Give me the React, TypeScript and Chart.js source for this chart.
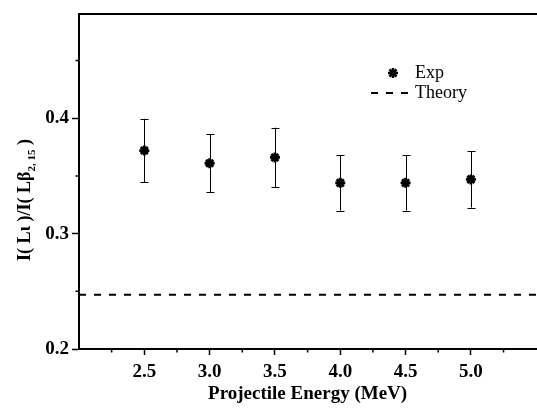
import React, { useEffect, useRef } from "react";
import { Chart, registerables } from "chart.js";

Chart.register(...registerables);

// ---- data ----
const energies = [2.5, 3.0, 3.5, 4.0, 4.5, 5.0];
const ratioExp = [0.372, 0.361, 0.366, 0.344, 0.344, 0.347];
const ratioErr = [0.0275, 0.0253, 0.0258, 0.024, 0.024, 0.0244];
const theoryRatio = 0.247;

const xTickValues = [2.5, 3.0, 3.5, 4.0, 4.5, 5.0];
const yTickValues = [0.2, 0.3, 0.4];
const xMinorTicks = [2.25, 2.75, 3.25, 3.75, 4.25, 4.75, 5.25];
const yMinorTicks = [0.25, 0.35, 0.45];
const xRange = [2.0, 5.5];
const yRange = [0.2, 0.49];

const SERIF = "'Liberation Serif', 'Times New Roman', serif";

function drawStar(ctx: CanvasRenderingContext2D, x: number, y: number, r: number) {
  const d = r * Math.SQRT1_2;
  ctx.beginPath();
  ctx.moveTo(x - r, y);
  ctx.lineTo(x + r, y);
  ctx.moveTo(x, y - r);
  ctx.lineTo(x, y + r);
  ctx.moveTo(x - d, y - d);
  ctx.lineTo(x + d, y + d);
  ctx.moveTo(x - d, y + d);
  ctx.lineTo(x + d, y - d);
  ctx.stroke();
}

const errorBarsPlugin = {
  id: "errorBars",
  beforeDatasetsDraw(chart: any) {
    const { ctx } = chart;
    const xs = chart.scales.x;
    const ys = chart.scales.y;
    ctx.save();
    ctx.strokeStyle = "#000";
    ctx.lineWidth = 1;
    energies.forEach((e, i) => {
      const px = Math.round(xs.getPixelForValue(e)) + 0.5;
      const top = ys.getPixelForValue(ratioExp[i] + ratioErr[i]);
      const bot = ys.getPixelForValue(ratioExp[i] - ratioErr[i]);
      ctx.beginPath();
      ctx.moveTo(px, top);
      ctx.lineTo(px, bot);
      ctx.moveTo(px - 4, Math.round(top) + 0.5);
      ctx.lineTo(px + 4, Math.round(top) + 0.5);
      ctx.moveTo(px - 4, Math.round(bot) + 0.5);
      ctx.lineTo(px + 4, Math.round(bot) + 0.5);
      ctx.stroke();
    });
    ctx.restore();
  },
};

const decorPlugin = {
  id: "decor",
  afterDraw(chart: any) {
    const { ctx, chartArea } = chart;
    const xs = chart.scales.x;
    const ys = chart.scales.y;
    ctx.save();
    // minor ticks
    ctx.strokeStyle = "#000";
    ctx.lineWidth = 1.5;
    ctx.beginPath();
    xMinorTicks.forEach((v) => {
      const px = xs.getPixelForValue(v);
      ctx.moveTo(px, chartArea.bottom);
      ctx.lineTo(px, chartArea.bottom + 3.5);
    });
    yMinorTicks.forEach((v) => {
      const py = ys.getPixelForValue(v);
      ctx.moveTo(chartArea.left, py);
      ctx.lineTo(chartArea.left - 3.5, py);
    });
    ctx.stroke();

    // y-axis title with subscript
    ctx.save();
    ctx.translate(30, 261);
    ctx.rotate(-Math.PI / 2);
    ctx.fillStyle = "#000";
    ctx.textBaseline = "alphabetic";
    ctx.textAlign = "left";
    const mainFont = `bold 18px ${SERIF}`;
    const subFont = `bold 11px ${SERIF}`;
    let cx = 0;
    ctx.font = mainFont;
    const p1 = "I( Lι )/I( Lβ";
    ctx.fillText(p1, cx, 0);
    cx += ctx.measureText(p1).width;
    ctx.font = subFont;
    const p2 = "2, 15";
    ctx.fillText(p2, cx, 5);
    cx += ctx.measureText(p2).width;
    ctx.font = mainFont;
    ctx.fillText(" )", cx, 0);
    ctx.restore();

    // legend
    ctx.strokeStyle = "#000";
    ctx.lineWidth = 2.5;
    drawStar(ctx, 393, 73, 5);
    ctx.lineWidth = 2;
    ctx.setLineDash([7, 8]);
    ctx.beginPath();
    ctx.moveTo(371, 93);
    ctx.lineTo(414, 93);
    ctx.stroke();
    ctx.setLineDash([]);
    ctx.fillStyle = "#000";
    ctx.font = `18px ${SERIF}`;
    ctx.textBaseline = "middle";
    ctx.textAlign = "left";
    ctx.fillText("Exp", 415, 73);
    ctx.fillText("Theory", 415, 93);
    ctx.restore();
  },
};

export default function App() {
  const canvasRef = useRef<HTMLCanvasElement | null>(null);

  useEffect(() => {
    if (!canvasRef.current) return;
    const tickFont = { family: SERIF, weight: "bold" as const, size: 19 };
    const titleFont = { family: SERIF, weight: "bold" as const, size: 19 };
    const chart = new Chart(canvasRef.current, {
      type: "scatter",
      data: {
        datasets: [
          {
            type: "scatter",
            label: "Exp",
            data: energies.map((e, i) => ({ x: e, y: ratioExp[i] })),
            pointStyle: "star",
            pointRadius: 5,
            pointBorderWidth: 2.8,
            borderColor: "#000",
            backgroundColor: "#000",
            xAxisID: "x",
            yAxisID: "y",
          } as any,
          {
            type: "line",
            label: "Theory",
            data: [
              { x: xRange[0], y: theoryRatio },
              { x: xRange[1], y: theoryRatio },
            ],
            borderColor: "#000",
            borderWidth: 2,
            borderDash: [7, 8],
            pointRadius: 0,
            fill: false,
            xAxisID: "x",
            yAxisID: "y",
          } as any,
        ],
      },
      options: {
        responsive: false,
        animation: false,
        devicePixelRatio: 1,
        layout: { padding: 0 },
        plugins: {
          legend: { display: false },
          tooltip: { enabled: false },
        },
        scales: {
          x: {
            type: "linear",
            position: "bottom",
            min: xRange[0],
            max: xRange[1],
            afterBuildTicks: (s: any) => {
              s.ticks = xTickValues.map((v) => ({ value: v }));
            },
            afterFit: (s: any) => {
              s.height = 64;
            },
            ticks: {
              callback: (v: any) => Number(v).toFixed(1),
              font: tickFont,
              color: "#000",
              padding: 6,
              maxRotation: 0,
              autoSkip: false,
            },
            grid: {
              display: true,
              drawOnChartArea: false,
              drawTicks: true,
              tickLength: 6,
              tickWidth: 1.5,
              tickColor: "#000",
            },
            border: { display: true, color: "#000", width: 2 },
            title: {
              display: true,
              text: "Projectile Energy (MeV)",
              font: titleFont,
              color: "#000",
              padding: { top: 0, bottom: 8 },
            },
          },
          xTop: {
            type: "linear",
            position: "top",
            min: xRange[0],
            max: xRange[1],
            afterFit: (s: any) => {
              s.height = 10;
            },
            ticks: { display: false },
            grid: { display: false },
            border: { display: true, color: "#000", width: 2 },
          },
          y: {
            type: "linear",
            position: "left",
            min: yRange[0],
            max: yRange[1],
            afterBuildTicks: (s: any) => {
              s.ticks = yTickValues.map((v) => ({ value: v }));
            },
            afterFit: (s: any) => {
              s.width = 79;
            },
            ticks: {
              callback: (v: any) => Number(v).toFixed(1),
              font: tickFont,
              color: "#000",
              padding: 3,
            },
            grid: {
              display: true,
              drawOnChartArea: false,
              drawTicks: true,
              tickLength: 7,
              tickWidth: 1.5,
              tickColor: "#000",
            },
            border: { display: true, color: "#000", width: 2 },
          },
        },
      } as any,
      plugins: [errorBarsPlugin, decorPlugin],
    });
    return () => chart.destroy();
  }, []);

  return (
    <div
      style={{
        position: "fixed",
        left: 0,
        top: 0,
        width: 537,
        height: 413,
        overflow: "hidden",
        background: "#fff",
      }}
    >
      <canvas ref={canvasRef} width={544} height={413} style={{ display: "block" }} />
    </div>
  );
}
